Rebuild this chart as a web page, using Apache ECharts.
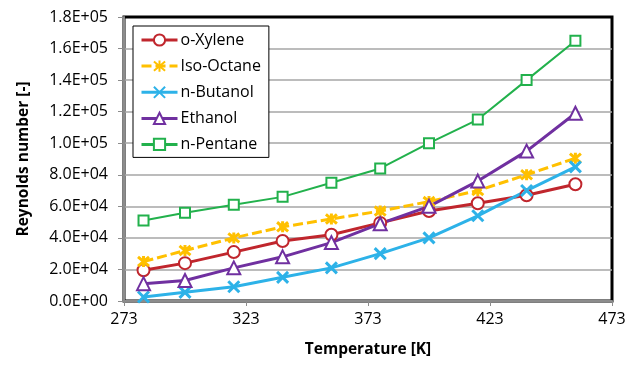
<!DOCTYPE html>
<html>
<head>
<meta charset="utf-8">
<script src="https://cdn.jsdelivr.net/npm/echarts@6/dist/echarts.min.js"></script>
<style>
  html, body { margin: 0; padding: 0; background: #fff; }
  #chart { width: 634px; height: 365px; }
</style>
</head>
<body>
<div id="chart"></div>
<script>
// Temperatures in kelvin
const temperatures = [281, 298, 318, 338, 358, 378, 398, 418, 438, 458];

// Reynolds numbers per fluid
const oXylene   = [19500, 24000, 31000, 38000, 42000, 49500, 57000, 62000, 67000, 74000];
const isoOctane = [25000, 32000, 40000, 47000, 52000, 57000, 63000, 70000, 80000, 90500];
const nButanol  = [2500, 5500, 9000, 15000, 21000, 30000, 40000, 54000, 70000, 85000];
const ethanol   = [11000, 13000, 21000, 28000, 37000, 49000, 60000, 76000, 95000, 119000];
const nPentane  = [51000, 56000, 61000, 66000, 75000, 84000, 100000, 115000, 140000, 165000];

// Axis tick values
const xTicks = [273, 323, 373, 423, 473];
const yTickStep = 20000;
const yMax = 180000;

// The x axis counts from 273 K so that ticks land on 273, 323, ...
const X0 = xTicks[0];
const toPoints = vals => temperatures.map((t, i) => [t - X0, vals[i]]);

const FONT = 'Open Sans';
const crossPath = 'path://M0,0L10,10M10,0L0,10';
const starPath = 'path://M0,0L10,10M10,0L0,10M5,-1L5,11';

function lineSeries(name, vals, color, opts) {
  return Object.assign({
    name: name,
    type: 'line',
    data: toPoints(vals),
    lineStyle: { color: color, width: 3 },
    itemStyle: { color: '#fff', borderColor: color, borderWidth: 2 },
    emphasis: { disabled: true },
    animation: false,
    z: 3
  }, opts);
}

const chart = echarts.init(document.getElementById('chart'), null, { renderer: 'canvas' });
chart.setOption({
  backgroundColor: '#fff',
  animation: false,
  textStyle: { fontFamily: FONT },
  grid: {
    left: 124, right: 22, top: 17, bottom: 64,
    show: true, borderColor: '#000', borderWidth: 3, backgroundColor: 'transparent'
  },
  legend: {
    orient: 'vertical',
    left: 133, top: 26,
    backgroundColor: '#fff',
    borderColor: '#000', borderWidth: 1, borderRadius: 0,
    padding: [6, 8, 5, 7],
    itemWidth: 36, itemHeight: 14, itemGap: 10,
    lineStyle: { width: 3 },
    textStyle: { fontFamily: FONT, fontSize: 16, color: '#000', lineHeight: 14, padding: [0, 0, 0, -2] },
    data: ['o-Xylene', 'Iso-Octane', 'n-Butanol', 'Ethanol', 'n-Pentane']
  },
  xAxis: {
    type: 'value',
    min: 0, max: xTicks[xTicks.length - 1] - X0, interval: xTicks[1] - xTicks[0],
    name: 'Temperature [K]', nameLocation: 'middle', nameGap: 41,
    nameTextStyle: { fontFamily: FONT, fontWeight: 'bold', fontSize: 15.5, color: '#000' },
    axisLine: { show: true, onZero: false, lineStyle: { color: '#8c8c8c', width: 2 } },
    axisTick: { show: true, length: 5, lineStyle: { color: '#8c8c8c', width: 1 } },
    axisLabel: { fontFamily: FONT, fontSize: 16, color: '#000', margin: 10,
                 formatter: v => String(v + X0) },
    splitLine: { show: false }
  },
  yAxis: {
    type: 'value',
    min: 0, max: yMax, interval: yTickStep,
    name: 'Reynolds number [-]', nameLocation: 'middle', nameGap: 92,
    nameTextStyle: { fontFamily: FONT, fontWeight: 'bold', fontSize: 15.5, color: '#000' },
    axisLine: { show: true, lineStyle: { color: '#8c8c8c', width: 2 } },
    axisTick: { show: true, length: 6, lineStyle: { color: '#8c8c8c', width: 1 } },
    axisLabel: { fontFamily: FONT, fontSize: 16, color: '#000', margin: 16,
                 formatter: v => v.toExponential(1).replace(/e([+-])(\d)$/, 'E$10$2').replace('e', 'E') },
    splitLine: { show: true, showMaxLine: false, lineStyle: { color: '#a6a6a6', width: 1.5 } }
  },
  series: [
    lineSeries('o-Xylene', oXylene, '#C0262D', { symbol: 'circle', symbolSize: 12 }),
    lineSeries('Iso-Octane', isoOctane, '#FFC000', {
      symbol: starPath, symbolSize: 11,
      lineStyle: { color: '#FFC000', width: 3, type: [10, 4] },
      itemStyle: { color: 'none', borderColor: '#FFC000', borderWidth: 3 }
    }),
    lineSeries('n-Butanol', nButanol, '#2DB2E8', {
      symbol: crossPath, symbolSize: 11,
      itemStyle: { color: 'none', borderColor: '#2DB2E8', borderWidth: 3 }
    }),
    lineSeries('Ethanol', ethanol, '#7030A0', { symbol: 'triangle', symbolSize: 13 }),
    lineSeries('n-Pentane', nPentane, '#22B14C', {
      symbol: 'rect', symbolSize: 10,
      lineStyle: { color: '#22B14C', width: 2 }
    })
  ]
});
</script>
</body>
</html>
